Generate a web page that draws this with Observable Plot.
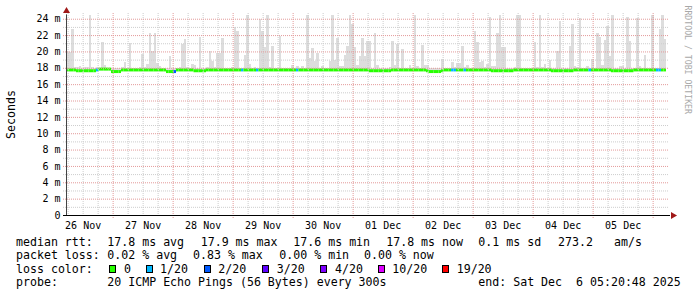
<!DOCTYPE html>
<html><head><meta charset="utf-8">
<script src="https://cdn.jsdelivr.net/npm/d3@7"></script>
<script src="https://cdn.jsdelivr.net/npm/@observablehq/plot@0.6"></script>
<style>
html,body{margin:0;padding:0;background:#fff;}
#chart{position:relative;width:697px;height:297px;overflow:hidden;font-family:"DejaVu Sans Mono",monospace;background:#fff;}
#chart svg{position:absolute;left:0;top:0;}
.lg{position:absolute;font-size:11.6px;line-height:14px;white-space:pre;color:#000;}
.bx{position:absolute;width:5px;height:6px;border:1px solid #000;}
</style></head><body><div id="chart"></div>
<script>
// ---- data (hourly bins, 10 days ending Sat Dec 6 05:20:48 2025) ----
const endTime = "2025-12-06T05:20:48Z";
const smokeTop = [
 19.9,19.9,22.8,18.1,18.1,18.2,18.0,18.1,18.1,24.5,
 18.1,18.0,18.1,18.0,21.2,18.4,18.0,18.0,18.0,18.0,
 18.0,18.0,18.1,18.7,18.0,21.0,18.0,18.0,18.0,18.1,
 19.7,18.1,18.5,22.3,20.0,22.2,18.6,18.2,18.0,18.0,
 18.0,19.5,18.0,18.0,18.0,18.1,20.85,21.5,18.1,18.0,
 18.5,18.4,18.0,21.8,18.0,18.0,18.1,20.05,18.8,18.1,
 19.8,19.8,21.7,18.0,18.0,18.0,18.1,23.0,22.5,18.0,
 18.0,19.6,24.5,18.5,18.0,18.1,18.0,23.95,22.5,20.55,
 24.5,18.1,20.7,18.0,18.0,21.9,18.0,18.0,18.0,18.0,
 18.4,18.0,18.2,18.0,18.2,18.0,24.5,19.2,20.4,18.8,
 19.8,18.0,18.2,18.0,18.0,18.8,24.5,19.0,21.7,18.2,
 18.2,19.6,20.7,24.5,23.4,20.55,18.4,19.5,21.7,19.5,
 21.3,21.3,18.0,22.3,18.4,18.0,18.0,18.0,18.0,18.1,
 21.3,18.4,20.9,18.0,20.3,18.0,18.0,18.4,18.0,24.5,
 18.2,18.0,20.8,18.4,18.4,18.0,18.0,18.0,18.0,18.0,
 19.1,18.0,18.0,18.0,18.7,18.1,18.6,18.6,20.7,18.1,
 18.4,18.0,18.0,22.5,21.1,18.7,18.8,18.1,18.5,24.2,
 18.2,18.2,22.3,24.5,20.55,20.55,18.0,18.0,18.0,18.1,
 24.5,24.5,18.0,18.0,18.0,18.0,18.0,21.2,18.1,24.5,
 18.1,18.5,18.0,19.0,18.0,18.0,20.05,23.75,18.0,18.0,
 18.0,20.7,23.4,18.2,18.1,24.1,18.0,18.0,18.2,18.0,
 19.1,18.0,22.2,21.8,18.4,21.4,23.1,19.5,24.5,18.0,
 18.0,18.2,18.2,18.0,24.2,21.3,18.0,18.0,24.1,18.2,
 18.0,19.6,18.0,18.0,24.5,18.0,18.0,22.8,24.4,21.5
];
const medianRtt = [
 17.8,17.8,17.8,17.8,17.7,17.7,17.7,17.7,17.7,17.7,17.7,17.7,17.8,17.9,17.9,17.9,17.9,17.9,17.6,17.6,
 17.6,17.6,17.8,17.8,17.8,17.8,17.8,17.8,17.8,17.8,17.8,17.8,17.8,17.8,17.8,17.8,17.8,17.8,17.8,17.8,
 17.6,17.6,17.6,17.6,17.8,17.8,17.8,17.8,17.8,17.8,17.8,17.7,17.7,17.7,17.7,17.7,17.8,17.8,17.8,17.8,
 17.8,17.8,17.8,17.8,17.8,17.8,17.8,17.8,17.8,17.8,17.8,17.8,17.8,17.8,17.8,17.8,17.8,17.8,17.8,17.8,
 17.8,17.8,17.8,17.8,17.8,17.8,17.8,17.8,17.8,17.8,17.8,17.8,17.8,17.8,17.8,17.8,17.8,17.8,17.8,17.8,
 17.8,17.8,17.8,17.8,17.8,17.8,17.8,17.8,17.8,17.8,17.8,17.8,17.8,17.8,17.8,17.8,17.8,17.8,17.8,17.8,
 17.8,17.7,17.7,17.7,17.7,17.7,17.7,17.7,17.7,17.7,17.8,17.8,17.8,17.8,17.8,17.8,17.8,17.8,17.8,17.8,
 17.8,17.8,17.8,17.8,17.7,17.6,17.6,17.6,17.6,17.6,17.7,17.8,17.8,17.8,17.8,17.8,17.8,17.8,17.8,17.8,
 17.8,17.8,17.8,17.8,17.8,17.8,17.8,17.8,17.8,17.8,17.7,17.7,17.7,17.7,17.7,17.7,17.7,17.7,17.7,17.8,
 17.8,17.8,17.8,17.8,17.8,17.8,17.8,17.8,17.8,17.8,17.8,17.8,17.8,17.8,17.7,17.7,17.7,17.7,17.7,17.7,
 17.7,17.7,17.7,17.8,17.8,17.8,17.8,17.8,17.8,17.8,17.8,17.8,17.8,17.8,17.8,17.8,17.8,17.8,17.7,17.7,
 17.7,17.7,17.7,17.7,17.7,17.7,17.7,17.8,17.8,17.8,17.8,17.8,17.8,17.8,17.8,17.8,17.8,17.8,17.8,17.8
];
const lossCount = [
 0,0,0,0,0,0,0,0,0,0,0,0,1,0,0,0,0,0,0,0,
 0,0,0,0,0,0,0,0,0,0,0,0,0,0,0,0,0,0,0,0,
 0,0,0,2,0,0,0,0,0,0,0,0,0,0,0,0,0,0,0,0,
 0,0,0,0,0,0,0,0,0,0,1,0,0,0,0,0,1,0,0,0,
 0,0,0,0,0,0,0,0,0,0,0,0,1,0,0,0,0,0,0,0,
 0,0,0,0,0,0,0,0,0,0,0,0,0,0,0,0,0,0,0,0,
 0,0,0,0,0,0,0,0,0,0,0,0,0,0,0,0,0,0,0,0,
 0,0,0,0,0,0,0,0,0,0,0,0,0,0,1,1,0,0,0,1,
 0,0,0,0,0,0,0,0,0,0,0,0,0,0,0,0,0,0,0,0,
 0,0,0,0,0,0,0,0,0,0,0,0,0,0,0,0,0,0,0,0,
 0,0,0,0,0,0,0,0,0,1,0,0,0,0,0,0,0,0,0,0,
 0,0,0,0,0,0,0,0,0,0,0,0,0,0,0,0,1,1,0,0
];
const lossThresholds = [0, 1, 2, 3, 4, 10, 19];
const lossLabels = ["0", "1/20", "2/20", "3/20", "4/20", "10/20", "19/20"];
const lossColors = ["#26ff00", "#00b8ff", "#0059ff", "#5e00ff", "#7e00ff", "#dd00ff", "#ff0000"];
const yTicks = [0, 2, 4, 6, 8, 10, 12, 14, 16, 18, 20, 22, 24];
const yTickLabels = ["0", "2 m", "4 m", "6 m", "8 m", "10 m", "12 m", "14 m", "16 m", "18 m", "20 m", "22 m", "24 m"];
const dayTicks = ["2025-11-26T12:00Z","2025-11-27T12:00Z","2025-11-28T12:00Z","2025-11-29T12:00Z","2025-11-30T12:00Z",
                  "2025-12-01T12:00Z","2025-12-02T12:00Z","2025-12-03T12:00Z","2025-12-04T12:00Z","2025-12-05T12:00Z"];
const dayLabels = ["26 Nov","27 Nov","28 Nov","29 Nov","30 Nov","01 Dec","02 Dec","03 Dec","04 Dec","05 Dec"];
const medianStats = ["17.8 ms avg", "17.9 ms max", "17.6 ms min", "17.8 ms now", "0.1 ms sd", "273.2", "am/s"];
const lossStats = ["0.02 % avg", "0.83 % max", "0.00 % min", "0.00 % now"];
const probeText = "20 ICMP Echo Pings (56 Bytes) every 300s";
const endText = "end: Sat Dec  6 05:20:48 2025";
const rowTitles = ["median rtt:", "packet loss:", "loss color:", "probe:"];
const yLabel = "Seconds";
const watermark = "RRDTOOL / TOBI OETIKER";

// ---- build ----
const H = 3600e3;
const T1 = +new Date(endTime);
const nBins = smokeTop.length;
const T0 = T1 - nBins * H;
const colorFor = n => { let c = lossColors[0]; lossThresholds.forEach((t, k) => { if (n >= t) c = lossColors[k]; }); return c; };
const bins = smokeTop.map((top, i) => ({
  x1: new Date(T0 + i * H), x2: new Date(T0 + (i + 1) * H),
  top, median: medianRtt[i], loss: lossCount[i]
}));
const dayDates = dayTicks.map(s => new Date(s));
const dayMap = new Map(dayDates.map((d, i) => [+d, dayLabels[i]]));
const yMap = new Map(yTicks.map((v, i) => [v, yTickLabels[i]]));
const startD = new Date(T0), endD = new Date(T1);
const majorX = d3.utcDay.range(startD, endD);
const minorX = d3.utcHour.every(6).range(startD, endD).filter(d => d.getUTCHours() !== 0);
const yMajor = d3.range(2, 25, 2);
const yMinor = d3.range(1, 25, 2);
const minorCol = "#cdcdcd", majorCol = "#e39a9a", arrowCol = "#a01818";

const chart = Plot.plot({
  width: 697, height: 232,
  marginLeft: 66, marginRight: 31, marginTop: 13, marginBottom: 17,
  style: {fontFamily: "DejaVu Sans Mono", fontSize: "10px", background: "white", color: "black", overflow: "visible"},
  x: {type: "utc", domain: [startD, endD], axis: null, label: null},
  y: {domain: [0, 24.7], axis: null, label: null},
  color: {type: "identity"},
  marks: [
    Plot.rect(bins, {x1: "x1", x2: "x2", y1: "median", y2: "top", fill: "#dddddd", shapeRendering: "crispEdges"}),
    Plot.ruleY(bins, {x1: "x1", x2: "x2", y: "median", stroke: d => colorFor(d.loss), strokeWidth: 3}),
    Plot.ruleY(yMinor, {stroke: minorCol, strokeDasharray: "1,1", insetLeft: -3, insetRight: -2}),
    Plot.ruleX(minorX, {stroke: minorCol, strokeDasharray: "1,1"}),
    Plot.ruleY(yMajor, {stroke: majorCol, strokeDasharray: "1,1", insetLeft: -3, insetRight: -2}),
    Plot.ruleX(majorX, {stroke: majorCol, strokeDasharray: "1,1", insetBottom: -3}),
    Plot.ruleY([0], {stroke: "#000", insetLeft: -3, insetRight: -4}),
    Plot.ruleX([startD], {y1: 0, y2: 24.9, stroke: "#444", insetBottom: -3}),
    Plot.dot([0], {x: () => startD, y: () => 25.0, symbol: "triangle", r: 2.6, fill: arrowCol, stroke: "none"}),
    Plot.dot([0], {x: () => new Date(T1 + 2.6 * H), y: () => 0, symbol: "triangle", r: 2.6, rotate: 90, fill: arrowCol, stroke: "none"}),
    Plot.axisX({ticks: dayDates, tickFormat: d => dayMap.get(+d), tickSize: 0, tickPadding: 6, label: null, fontSize: 10}),
    Plot.axisY({ticks: yTicks, tickFormat: v => yMap.get(v), tickSize: 0, tickPadding: 6, label: null, fontSize: 10}),
    Plot.text([yLabel], {text: d => d, frameAnchor: "left", rotate: -90, dx: -55, fontSize: 11.6, textAnchor: "middle", lineAnchor: "middle"}),
    Plot.text([watermark], {text: d => d, frameAnchor: "top-right", rotate: 90, dx: 21.5, dy: -8, fontSize: 8.2, fill: "#a8a8a8", textAnchor: "start", lineAnchor: "middle"})
  ]
});
const root = document.getElementById("chart");
root.appendChild(chart);

// ---- legend below the plot ----
function addText(x, top, s) {
  const el = document.createElement("div");
  el.className = "lg"; el.style.left = x + "px"; el.style.top = top + "px"; el.textContent = s;
  root.appendChild(el);
}
const rowTop = [234.5, 248, 261.5, 275];
rowTitles.forEach((t, i) => addText(16, rowTop[i], t));
const medX = [107.3, 200.7, 293.3, 386.2, 478.3, 558, 614];
medianStats.forEach((s, i) => addText(medX[i], rowTop[0], s));
const lossX = [107.3, 193, 279.3, 364];
lossStats.forEach((s, i) => addText(lossX[i], rowTop[1], s));
const boxX = [109, 146, 204, 262, 320, 378, 442];
const labX = [124, 160, 218.3, 276.7, 335, 392.3, 456.7];
lossLabels.forEach((s, i) => {
  const b = document.createElement("div");
  b.className = "bx"; b.style.left = boxX[i] + "px"; b.style.top = "265px"; b.style.background = lossColors[i];
  root.appendChild(b);
  addText(labX[i], rowTop[2], s);
});
addText(107.3, rowTop[3], probeText);
addText(478.3, rowTop[3], endText);
</script></body></html>
